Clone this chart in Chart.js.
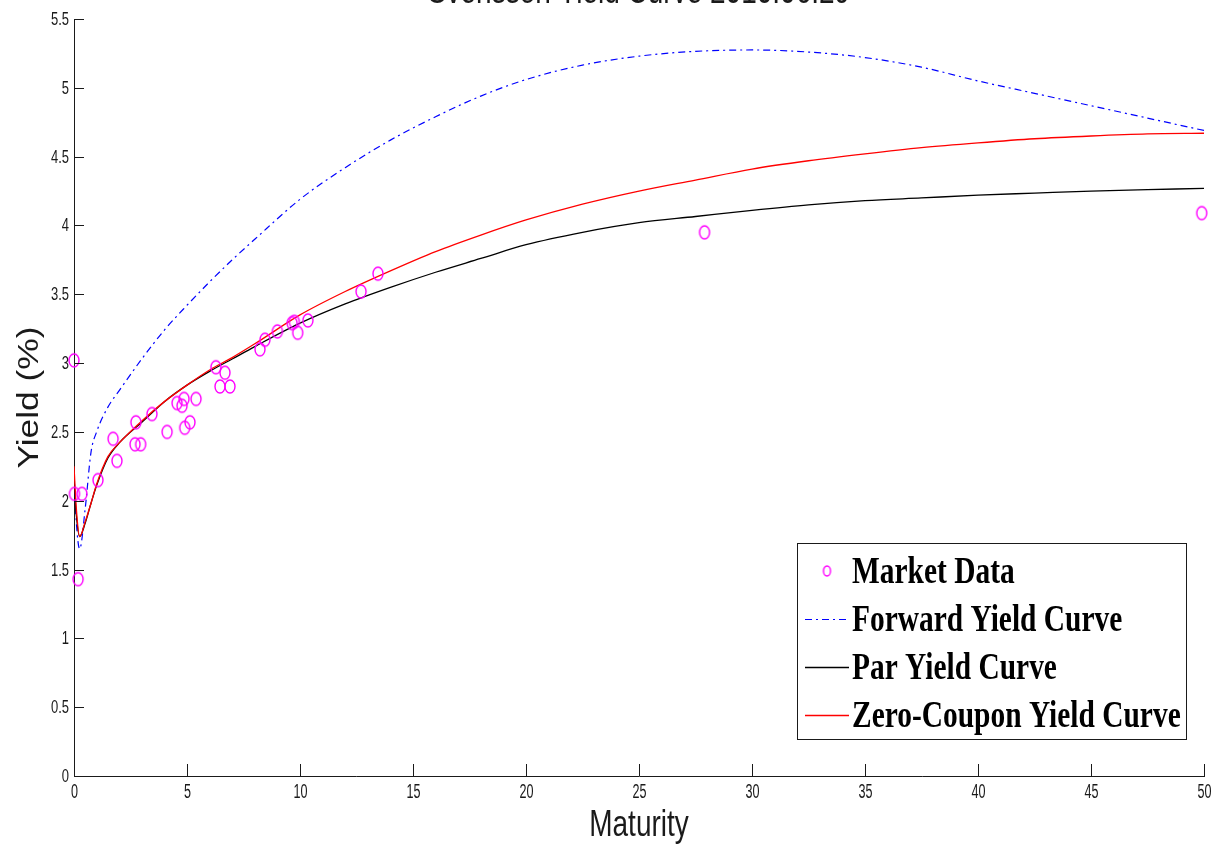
<!DOCTYPE html>
<html><head><meta charset="utf-8">
<script src="https://cdn.jsdelivr.net/npm/chart.js@4.4.1/dist/chart.umd.min.js"></script>
<style>html,body{margin:0;padding:0;background:#fff;overflow:hidden}</style>
</head><body>
<canvas id="c" width="1214" height="845"></canvas>
<script>
// ---- text ----
const titleText = 'Svensson Yield Curve 2010.06.29';
const xTitle = 'Maturity';
const yTitle = 'Yield (%)';
const seriesLabels = ['Market Data', 'Forward Yield Curve', 'Par Yield Curve', 'Zero-Coupon Yield Curve'];

// ---- axis ranges / ticks ----
const xMin = 0, xMax = 50, xStep = 5;
const yMin = 0, yMax = 5.5, yStep = 0.5;

// ---- market data ----
const marketMaturity = [0.0, 0.02, 0.35, 0.18, 1.06, 1.73, 1.9, 2.74, 2.7, 2.95, 3.45, 4.12, 4.56, 4.78, 4.87, 4.9, 5.13, 5.4, 6.28, 6.46, 6.68, 6.9, 8.23, 8.45, 9.0, 9.65, 9.75, 9.9, 10.35, 12.7, 13.45, 27.9, 49.9];
const marketYield    = [3.02, 2.05, 2.05, 1.43, 2.15, 2.45, 2.29, 2.57, 2.41, 2.41, 2.63, 2.50, 2.71, 2.69, 2.74, 2.53, 2.57, 2.74, 2.97, 2.83, 2.93, 2.83, 3.10, 3.17, 3.23, 3.29, 3.30, 3.22, 3.31, 3.52, 3.65, 3.95, 4.09];

// ---- fitted curves ----
const curveMaturity = [0, 0.1, 0.25, 0.5, 0.75, 1, 1.5, 2, 3, 4, 5, 6, 7, 8, 10, 12, 14, 16, 18, 20, 22.5, 25, 27.5, 30, 32.5, 35, 37.5, 40, 42.5, 45, 47.5, 50];
const forwardYield = [2.20, 1.85, 1.65, 1.95, 2.35, 2.50, 2.68, 2.80, 3.03, 3.24, 3.42, 3.59, 3.75, 3.90, 4.19, 4.42, 4.62, 4.79, 4.94, 5.06, 5.165, 5.23, 5.265, 5.275, 5.26, 5.22, 5.15, 5.05, 4.96, 4.87, 4.78, 4.69];
const parYield     = [2.15, 1.90, 1.74, 1.84, 1.98, 2.11, 2.31, 2.42, 2.57, 2.72, 2.84, 2.94, 3.03, 3.12, 3.29, 3.43, 3.55, 3.66, 3.76, 3.86, 3.95, 4.02, 4.065, 4.11, 4.15, 4.18, 4.20, 4.22, 4.235, 4.25, 4.26, 4.27];
const zeroYield    = [2.25, 1.95, 1.74, 1.85, 1.98, 2.12, 2.32, 2.42, 2.58, 2.72, 2.84, 2.95, 3.04, 3.14, 3.35, 3.52, 3.67, 3.81, 3.93, 4.04, 4.155, 4.25, 4.33, 4.41, 4.47, 4.52, 4.565, 4.60, 4.63, 4.65, 4.665, 4.67];

function pairs(xs, ys) { return xs.map((x, i) => ({x: x, y: ys[i]})); }

// oval marker (the reference figure is stretched vertically)
function makeOval(w, h, color) {
  const cv = document.createElement('canvas');
  cv.width = w + 4; cv.height = h + 4;
  const g = cv.getContext('2d');
  g.strokeStyle = color; g.lineWidth = 1.4;
  g.beginPath();
  g.ellipse(cv.width / 2, cv.height / 2, w / 2, h / 2, 0, 0, Math.PI * 2);
  g.stroke();
  return cv;
}
const ovalMarker = makeOval(10, 13, '#ff00ff');
const legendMarker = makeOval(7, 10, '#ff00ff');

function stext(ctx, txt, x, y, font, align, baseline, sx, sy, color) {
  ctx.save();
  ctx.translate(x, y);
  ctx.scale(sx, sy);
  ctx.font = font;
  ctx.textAlign = align;
  ctx.textBaseline = baseline;
  ctx.fillStyle = color || '#1a1a1a';
  ctx.fillText(txt, 0, 0);
  ctx.restore();
}

const axisDecor = {
  id: 'axisDecor',
  afterDraw(chart) {
    const ctx = chart.ctx;
    const xs = chart.scales.x, ys = chart.scales.y;
    const ca = chart.chartArea;
    ctx.save();
    ctx.strokeStyle = '#1a1a1a';
    ctx.lineWidth = 1;
    // inward ticks + labels
    ys.ticks.forEach(t => {
      const py = Math.round(ys.getPixelForValue(t.value)) + 0.5;
      ctx.beginPath(); ctx.moveTo(ca.left, py); ctx.lineTo(ca.left + 10, py); ctx.stroke();
      stext(ctx, String(t.value), ca.left - 5, py, '13px "Liberation Sans", Arial, sans-serif', 'right', 'middle', 1, 1.45);
    });
    xs.ticks.forEach(t => {
      const px = Math.round(xs.getPixelForValue(t.value)) + 0.5;
      ctx.beginPath(); ctx.moveTo(px, ca.bottom); ctx.lineTo(px, ca.bottom - 12); ctx.stroke();
      stext(ctx, String(t.value), px, ca.bottom + 16, '14px "Liberation Sans", Arial, sans-serif', 'center', 'middle', 0.9, 1.45);
    });
    // axis titles
    stext(ctx, xTitle, (ca.left + ca.right) / 2, 836, '28px "Liberation Sans", Arial, sans-serif', 'center', 'alphabetic', 1, 1.33);
    ctx.save();
    ctx.translate(30, (ca.top + ca.bottom) / 2);
    ctx.rotate(-Math.PI / 2);
    stext(ctx, yTitle, 0, 0, '29px "Liberation Sans", Arial, sans-serif', 'center', 'middle', 1.22, 1);
    ctx.restore();
    // title (cut by top edge as in reference)
    stext(ctx, titleText, (ca.left + ca.right) / 2, 3, '28px "Liberation Sans", Arial, sans-serif', 'center', 'alphabetic', 1, 1.35);
    ctx.restore();
  }
};

const boxLegend = {
  id: 'boxLegend',
  afterDraw(chart) {
    const ctx = chart.ctx;
    const bx = 797, by = 543, bw = 389, bh = 196;
    ctx.save();
    ctx.fillStyle = '#ffffff';
    ctx.fillRect(bx, by, bw, bh);
    ctx.strokeStyle = '#1a1a1a';
    ctx.lineWidth = 1;
    ctx.strokeRect(bx + 0.5, by + 0.5, bw, bh);
    const baselines = [583, 631, 679, 727];
    chart.data.datasets.forEach((ds, i) => {
      const base = baselines[i];
      const cy = base - 12;
      if (ds.showLine === false) {
        ctx.drawImage(legendMarker, 827 - legendMarker.width / 2, cy - legendMarker.height / 2);
      } else {
        ctx.save();
        ctx.strokeStyle = ds.borderColor;
        ctx.lineWidth = ds.borderWidth;
        ctx.setLineDash(ds.borderDash || []);
        ctx.beginPath(); ctx.moveTo(805, cy + 0.5); ctx.lineTo(849, cy + 0.5); ctx.stroke();
        ctx.restore();
      }
      stext(ctx, ds.label, 852, base, 'bold 29px "Liberation Serif", "Times New Roman", serif', 'left', 'alphabetic', 1.015, 1.3, '#000');
    });
    ctx.restore();
  }
};

new Chart(document.getElementById('c'), {
  type: 'scatter',
  data: {
    datasets: [
      { label: seriesLabels[0], data: pairs(marketMaturity, marketYield), showLine: false,
        pointStyle: ovalMarker, pointRadius: 6, borderColor: '#ff00ff', backgroundColor: 'rgba(0,0,0,0)', clip: false, order: 0 },
      { label: seriesLabels[1], data: pairs(curveMaturity, forwardYield), showLine: true, pointRadius: 0,
        borderColor: '#0000ff', borderWidth: 1.2, borderDash: [7, 4, 2, 4], cubicInterpolationMode: 'monotone', order: 3 },
      { label: seriesLabels[2], data: pairs(curveMaturity, parYield), showLine: true, pointRadius: 0,
        borderColor: '#000000', borderWidth: 1.3, cubicInterpolationMode: 'monotone', order: 2 },
      { label: seriesLabels[3], data: pairs(curveMaturity, zeroYield), showLine: true, pointRadius: 0,
        borderColor: '#ff0000', borderWidth: 1.3, cubicInterpolationMode: 'monotone', order: 1 }
    ]
  },
  options: {
    responsive: false,
    animation: false,
    devicePixelRatio: 1,
    layout: { padding: { top: 19, right: 10, left: 0, bottom: 0 } },
    plugins: { legend: { display: false }, title: { display: false }, tooltip: { enabled: false } },
    scales: {
      x: {
        type: 'linear', min: xMin, max: xMax,
        ticks: { display: false, stepSize: xStep },
        grid: { display: false },
        border: { display: true, color: '#1a1a1a', width: 1 },
        afterFit(s) { s.height = 69; }
      },
      y: {
        type: 'linear', min: yMin, max: yMax,
        ticks: { display: false, stepSize: yStep },
        grid: { display: false },
        border: { display: true, color: '#1a1a1a', width: 1 },
        afterFit(s) { s.width = 74; }
      }
    }
  },
  plugins: [axisDecor, boxLegend]
});
</script>
</body></html>
